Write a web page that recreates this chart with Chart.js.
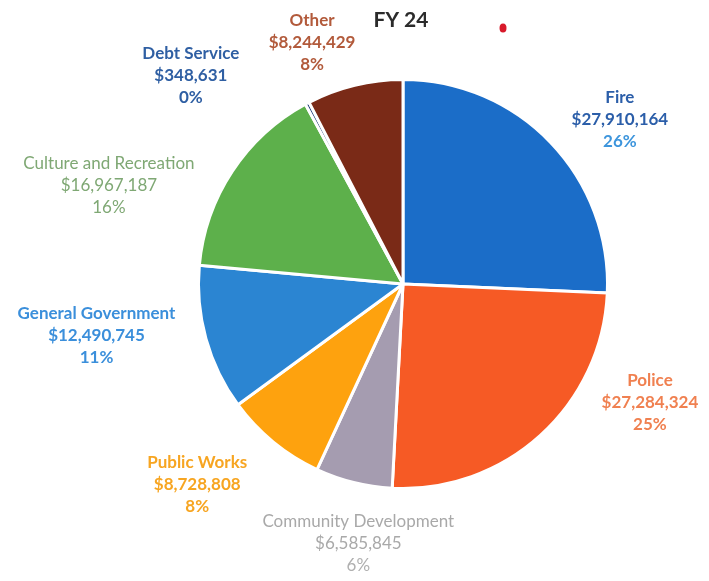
<!DOCTYPE html>
<html>
<head>
<meta charset="utf-8">
<script src="https://cdn.jsdelivr.net/npm/chart.js@4/dist/chart.umd.min.js"></script>
<style>
  html, body { margin: 0; padding: 0; background: #fff; }
  #wrap { width: 709px; height: 581px; position: relative; }
</style>
</head>
<body>
<div id="wrap"><canvas id="c" width="709" height="581"></canvas></div>
<script>
const categories = ["Fire", "Police", "Community Development", "Public Works", "General Government", "Culture and Recreation", "Debt Service", "Other"];
const values = [27910164, 27284324, 6585845, 8728808, 12490745, 16967187, 348631, 8244429];
const valueLabels = ["$27,910,164", "$27,284,324", "$6,585,845", "$8,728,808", "$12,490,745", "$16,967,187", "$348,631", "$8,244,429"];
const percentLabels = ["26%", "25%", "6%", "8%", "11%", "16%", "0%", "8%"];
const sliceColors = ["#1b6dc8", "#f65a25", "#a59cb0", "#fea20e", "#2b85d2", "#5db04b", "#1f3d78", "#7a2a17"];
const titleText = "FY 24";

// label styling / placement (angle shift in degrees from slice mid, distance as fraction of radius)
const labelStyle = [
  {name: "#2b5ea9", value: "#2b5ea9", pct: "#3d95dc", shift: 6.6, dist: 1.33, weight: "bold"},
  {name: "#f08050", value: "#f08050", pct: "#f08050", shift: -22.1, dist: 1.34, weight: "bold"},
  {name: "#a9a9a9", value: "#a9a9a9", pct: "#b0b0b0", shift: -4.2, dist: 1.29, weight: "normal"},
  {name: "#f7a521", value: "#f7a521", pct: "#f7a521", shift: 6.4, dist: 1.405, weight: "bold"},
  {name: "#3b8fdb", value: "#3b8fdb", pct: "#3b8fdb", shift: 5.9, dist: 1.52, weight: "bold"},
  {name: "#7fa874", value: "#7fa874", pct: "#7fa874", shift: -14.8, dist: 1.517, weight: "normal"},
  {name: "#2f5fa3", value: "#2f5fa3", pct: "#2f5fa3", shift: -17.6, dist: 1.454, weight: "bold"},
  {name: "#b25a3b", value: "#b25a3b", pct: "#b25a3b", shift: -7.0, dist: 1.26, weight: "bold"}
];

const outsideLabels = {
  id: "outsideLabels",
  afterDraw(chart) {
    const ctx = chart.ctx;
    const meta = chart.getDatasetMeta(0);
    ctx.save();
    ctx.textAlign = "center";
    ctx.textBaseline = "middle";
    meta.data.forEach((arc, i) => {
      const p = arc.getProps(["x", "y", "startAngle", "endAngle", "outerRadius"], true);
      const st = labelStyle[i];
      const mid = (p.startAngle + p.endAngle) / 2 + st.shift * Math.PI / 180;
      const r = p.outerRadius * st.dist;
      const cx = p.x + Math.cos(mid) * r;
      const cy = p.y + Math.sin(mid) * r;
      const font = (st.weight === "bold" ? "bold " : "") + "17px Lato, 'Open Sans', sans-serif";
      ctx.font = font;
      ctx.fillStyle = st.name;
      ctx.fillText(categories[i], cx, cy - 22);
      ctx.fillStyle = st.value;
      ctx.fillText(valueLabels[i], cx, cy);
      ctx.fillStyle = st.pct;
      ctx.fillText(percentLabels[i], cx, cy + 22);
    });
    // title
    ctx.font = "bold 21px Lato, 'Open Sans', sans-serif";
    ctx.fillStyle = "#2b2b2b";
    ctx.fillText(titleText, 401, 20);
    // small red mark
    ctx.beginPath();
    ctx.fillStyle = "#d8192a";
    ctx.ellipse(503, 28, 3.5, 4.5, 0, 0, Math.PI * 2);
    ctx.fill();
    ctx.restore();
  }
};

new Chart(document.getElementById("c"), {
  type: "pie",
  data: {
    labels: categories,
    datasets: [{
      data: values,
      backgroundColor: sliceColors,
      borderColor: "#ffffff",
      borderWidth: 3
    }]
  },
  options: {
    responsive: false,
    animation: false,
    layout: { padding: { top: 78, bottom: 91, left: 197, right: 100 } },
    plugins: {
      legend: { display: false },
      tooltip: { enabled: false },
      title: { display: false }
    }
  },
  plugins: [outsideLabels]
});
</script>
</body>
</html>
